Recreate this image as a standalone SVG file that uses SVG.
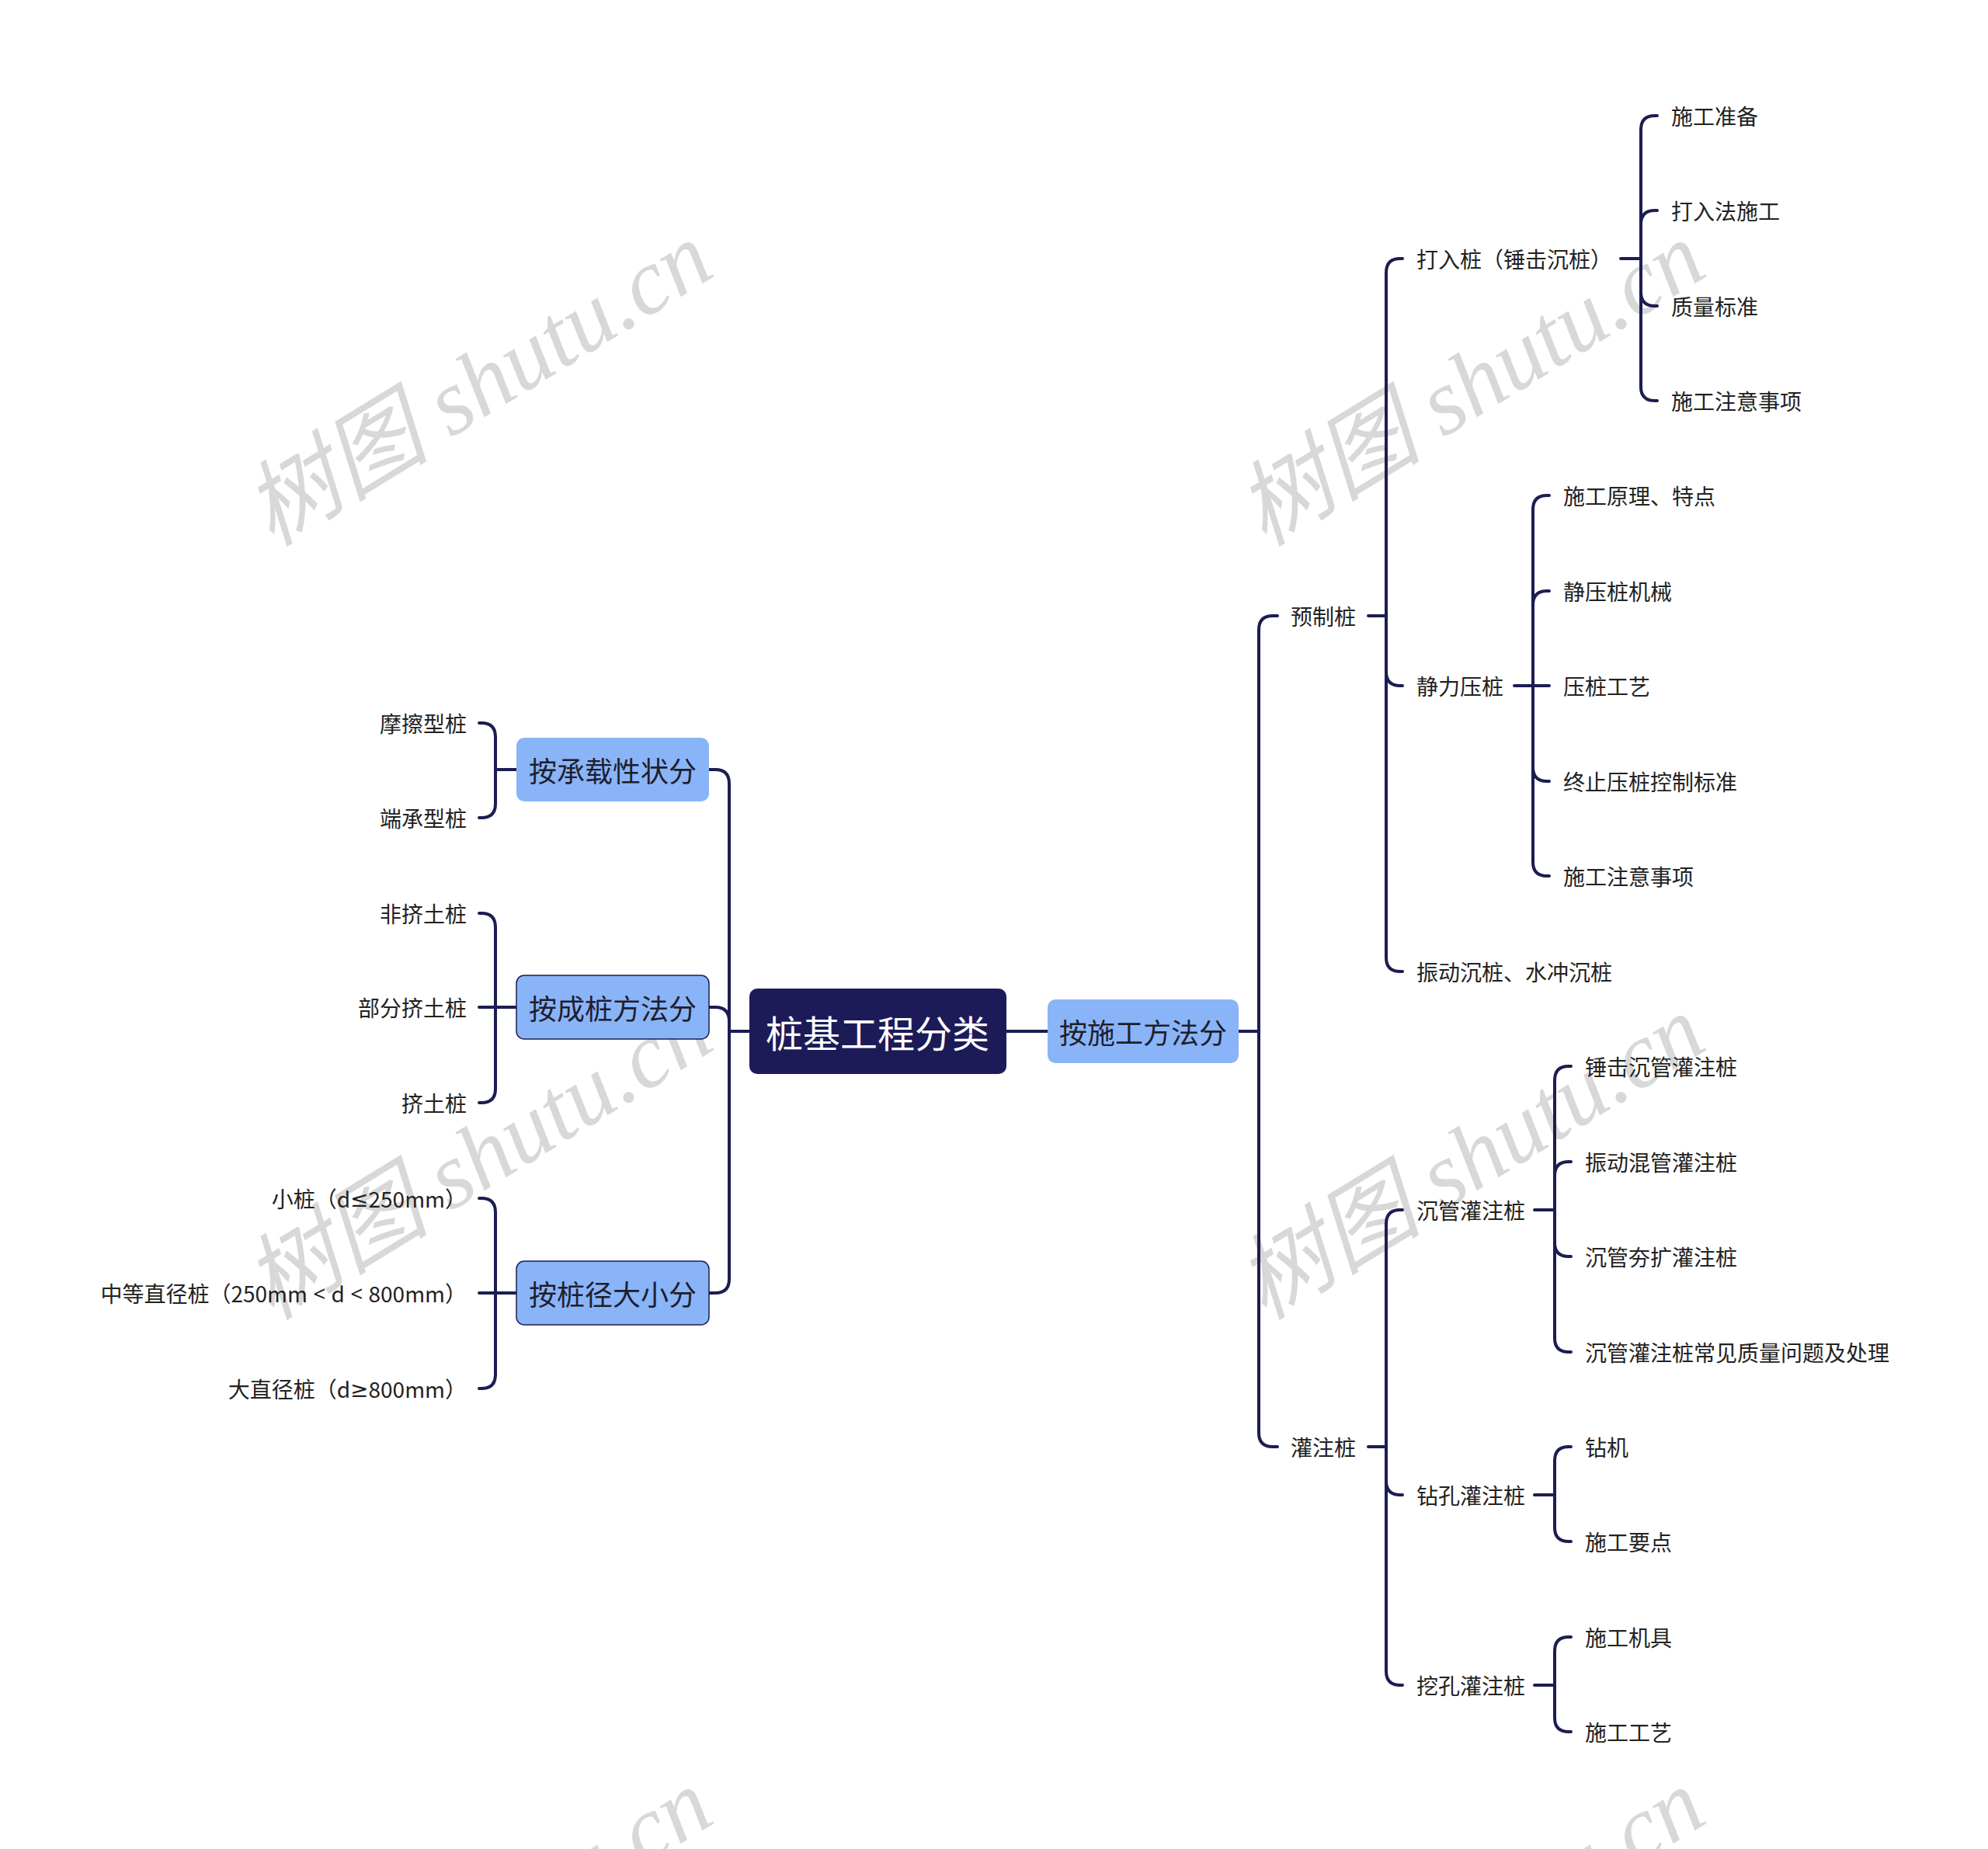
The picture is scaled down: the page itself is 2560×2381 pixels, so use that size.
<svg xmlns="http://www.w3.org/2000/svg" width="2560" height="2381" viewBox="0 0 2560 2381">
<style>
.wm{font-family:"Liberation Serif","Noto Sans CJK SC",serif;font-style:italic;font-size:120px;fill:#d8d8d8}
.ln{fill:none;stroke:#1c1d52;stroke-width:4;stroke-linecap:round}
.root{fill:#1c1b58}
.rootT{font-family:"Noto Sans CJK SC","Noto Sans",sans-serif;font-size:48px;fill:#ffffff;text-anchor:middle;dominant-baseline:central}
.b1{fill:#8ab4f8}
.b1s{fill:#8ab4f8;stroke:#1c1d52;stroke-width:1.5}
.t1{font-family:"Noto Sans CJK SC","Noto Sans",sans-serif;font-size:36px;fill:#1e1e2e;text-anchor:middle;dominant-baseline:central}
.t{font-family:"Noto Sans CJK SC","Noto Sans",sans-serif;font-size:28px;fill:#222222;dominant-baseline:central}
.te{font-family:"Noto Sans CJK SC","Noto Sans",sans-serif;font-size:28px;fill:#222222;dominant-baseline:central;text-anchor:end}
.lat{font-family:"Noto Sans","DejaVu Sans",sans-serif}
</style>
<rect width="2560" height="2381" fill="#ffffff"/>
<g id="watermarks">
<text class="wm" x="350" y="705" transform="rotate(-31.5 350 705)">树图 shutu.cn</text>
<text class="wm" x="1628" y="705" transform="rotate(-31.5 1628 705)">树图 shutu.cn</text>
<text class="wm" x="350" y="1701" transform="rotate(-31.5 350 1701)">树图 shutu.cn</text>
<text class="wm" x="1628" y="1701" transform="rotate(-31.5 1628 1701)">树图 shutu.cn</text>
<text class="wm" x="350" y="2697" transform="rotate(-31.5 350 2697)">树图 shutu.cn</text>
<text class="wm" x="1628" y="2697" transform="rotate(-31.5 1628 2697)">树图 shutu.cn</text>
</g>
<g id="connectors">
<path class="ln" d="M1296,1328 H1349"/>
<path class="ln" d="M1595,1328 H1621"/>
<path class="ln" d="M1621,1328 V811 Q1621,793 1639,793 H1645"/>
<path class="ln" d="M1621,1328 V1845 Q1621,1863 1639,1863 H1645"/>
<path class="ln" d="M1762,793 H1785"/>
<path class="ln" d="M1785,793 V351 Q1785,333 1803,333 H1806"/>
<path class="ln" d="M1785,793 V865 Q1785,883 1803,883 H1806"/>
<path class="ln" d="M1785,793 V1233 Q1785,1251 1803,1251 H1806"/>
<path class="ln" d="M2087,333 H2113"/>
<path class="ln" d="M2113,333 V167 Q2113,149 2131,149 H2134"/>
<path class="ln" d="M2113,333 V289 Q2113,271 2131,271 H2134"/>
<path class="ln" d="M2113,333 V376 Q2113,394 2131,394 H2134"/>
<path class="ln" d="M2113,333 V498 Q2113,516 2131,516 H2134"/>
<path class="ln" d="M1950,883 H1974"/>
<path class="ln" d="M1974,883 V656 Q1974,638 1992,638 H1995"/>
<path class="ln" d="M1974,883 V779 Q1974,761 1992,761 H1995"/>
<path class="ln" d="M1974,883 H1995"/>
<path class="ln" d="M1974,883 V988 Q1974,1006 1992,1006 H1995"/>
<path class="ln" d="M1974,883 V1110 Q1974,1128 1992,1128 H1995"/>
<path class="ln" d="M1762,1863 H1785"/>
<path class="ln" d="M1785,1863 V1576 Q1785,1558 1803,1558 H1806"/>
<path class="ln" d="M1785,1863 V1907 Q1785,1925 1803,1925 H1806"/>
<path class="ln" d="M1785,1863 V2152 Q1785,2170 1803,2170 H1806"/>
<path class="ln" d="M1976,1558 H2002"/>
<path class="ln" d="M2002,1558 V1391 Q2002,1373 2020,1373 H2023"/>
<path class="ln" d="M2002,1558 V1514 Q2002,1496 2020,1496 H2023"/>
<path class="ln" d="M2002,1558 V1600 Q2002,1618 2020,1618 H2023"/>
<path class="ln" d="M2002,1558 V1723 Q2002,1741 2020,1741 H2023"/>
<path class="ln" d="M1976,1925 H2002"/>
<path class="ln" d="M2002,1925 V1881 Q2002,1863 2020,1863 H2023"/>
<path class="ln" d="M2002,1925 V1967 Q2002,1985 2020,1985 H2023"/>
<path class="ln" d="M1976,2170 H2002"/>
<path class="ln" d="M2002,2170 V2126 Q2002,2108 2020,2108 H2023"/>
<path class="ln" d="M2002,2170 V2212 Q2002,2230 2020,2230 H2023"/>
<path class="ln" d="M965,1328 H939"/>
<path class="ln" d="M939,1328 V1009 Q939,991 921,991 H913"/>
<path class="ln" d="M939,1328 V1315 Q939,1297 921,1297 H913"/>
<path class="ln" d="M939,1328 V1647 Q939,1665 921,1665 H913"/>
<path class="ln" d="M665,991 H638"/>
<path class="ln" d="M638,991 V949 Q638,931 620,931 H617"/>
<path class="ln" d="M638,991 V1035 Q638,1053 620,1053 H617"/>
<path class="ln" d="M665,1297 H638"/>
<path class="ln" d="M638,1297 V1194 Q638,1176 620,1176 H617"/>
<path class="ln" d="M638,1297 H617"/>
<path class="ln" d="M638,1297 V1402 Q638,1420 620,1420 H617"/>
<path class="ln" d="M665,1665 H638"/>
<path class="ln" d="M638,1665 V1561 Q638,1543 620,1543 H617"/>
<path class="ln" d="M638,1665 H617"/>
<path class="ln" d="M638,1665 V1770 Q638,1788 620,1788 H617"/>
</g>
<g id="root"><rect class="root" x="965" y="1273" width="331" height="110" rx="10"/><text class="rootT" x="1130" y="1328">桩基工程分类</text></g>
<g id="n-shigong"><rect class="b1" x="1349" y="1287" width="246" height="82" rx="10"/><text class="t1" x="1472" y="1328">按施工方法分</text></g>
<g id="n-chengzai"><rect class="b1" x="665" y="950" width="248" height="82" rx="10"/><text class="t1" x="789" y="991">按承载性状分</text></g>
<g id="n-chengzhuang"><rect class="b1s" x="665" y="1256" width="248" height="82" rx="10"/><text class="t1" x="789" y="1297">按成桩方法分</text></g>
<g id="n-zhuangjing"><rect class="b1s" x="665" y="1624" width="248" height="82" rx="10"/><text class="t1" x="789" y="1665">按桩径大小分</text></g>
<g id="n-yuzhi"><text class="t" x="1662" y="793">预制桩</text></g>
<g id="n-guanzhu"><text class="t" x="1662" y="1863">灌注桩</text></g>
<g id="n-daru"><text class="t" x="1824" y="333">打入桩（锤击沉桩）</text></g>
<g id="n-jingli"><text class="t" x="1824" y="883">静力压桩</text></g>
<g id="n-zhendong"><text class="t" x="1824" y="1251">振动沉桩、水冲沉桩</text></g>
<g id="n-d1"><text class="t" x="2152" y="149">施工准备</text></g>
<g id="n-d2"><text class="t" x="2152" y="271">打入法施工</text></g>
<g id="n-d3"><text class="t" x="2152" y="394">质量标准</text></g>
<g id="n-d4"><text class="t" x="2152" y="516">施工注意事项</text></g>
<g id="n-j1"><text class="t" x="2013" y="638">施工原理、特点</text></g>
<g id="n-j2"><text class="t" x="2013" y="761">静压桩机械</text></g>
<g id="n-j3"><text class="t" x="2013" y="883">压桩工艺</text></g>
<g id="n-j4"><text class="t" x="2013" y="1006">终止压桩控制标准</text></g>
<g id="n-j5"><text class="t" x="2013" y="1128">施工注意事项</text></g>
<g id="n-chenguan"><text class="t" x="1824" y="1558">沉管灌注桩</text></g>
<g id="n-zuankong"><text class="t" x="1824" y="1925">钻孔灌注桩</text></g>
<g id="n-wakong"><text class="t" x="1824" y="2170">挖孔灌注桩</text></g>
<g id="n-c1"><text class="t" x="2041" y="1373">锤击沉管灌注桩</text></g>
<g id="n-c2"><text class="t" x="2041" y="1496">振动混管灌注桩</text></g>
<g id="n-c3"><text class="t" x="2041" y="1618">沉管夯扩灌注桩</text></g>
<g id="n-c4"><text class="t" x="2041" y="1741">沉管灌注桩常见质量问题及处理</text></g>
<g id="n-z1"><text class="t" x="2041" y="1863">钻机</text></g>
<g id="n-z2"><text class="t" x="2041" y="1985">施工要点</text></g>
<g id="n-w1"><text class="t" x="2041" y="2108">施工机具</text></g>
<g id="n-w2"><text class="t" x="2041" y="2230">施工工艺</text></g>
<g id="n-l1"><text class="te" x="601" y="931">摩擦型桩</text></g>
<g id="n-l2"><text class="te" x="601" y="1053">端承型桩</text></g>
<g id="n-l3"><text class="te" x="601" y="1176">非挤土桩</text></g>
<g id="n-l4"><text class="te" x="601" y="1297">部分挤土桩</text></g>
<g id="n-l5"><text class="te" x="601" y="1420">挤土桩</text></g>
<g id="n-l6"><text class="te" x="601" y="1543">小桩（d<tspan class="lat">≤</tspan>250mm）</text></g>
<g id="n-l7"><text class="te" x="601" y="1665">中等直径桩（250mm<tspan class="lat"> &lt; </tspan>d<tspan class="lat"> &lt; </tspan>800mm）</text></g>
<g id="n-l8"><text class="te" x="601" y="1788">大直径桩（d<tspan class="lat">≥</tspan>800mm）</text></g>
</svg>
